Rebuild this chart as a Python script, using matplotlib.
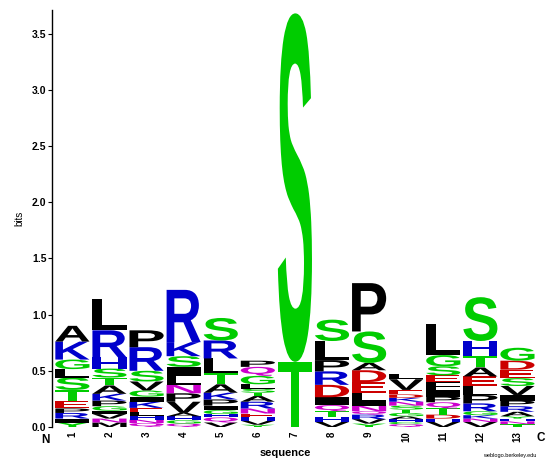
import matplotlib
matplotlib.use('Agg')
import matplotlib.pyplot as plt
from matplotlib.textpath import TextPath
from matplotlib.font_manager import FontProperties
from matplotlib.patches import PathPatch
from matplotlib.path import Path

# Sequence logo data: per position, letters from bottom to top with their heights (bits)
positions = list(range(1, 14))
stack_letters = [
    ['Y', 'I', 'R', 'P', 'E', 'T', 'S', 'L', 'G', 'K', 'A'],
    ['M', 'N', 'V', 'I', 'G', 'P', 'K', 'A', 'T', 'S', 'H', 'R', 'L'],
    ['Q', 'N', 'H', 'L', 'E', 'K', 'I', 'G', 'V', 'S', 'R', 'P'],
    ['Q', 'G', 'H', 'A', 'V', 'P', 'N', 'L', 'I', 'S', 'K', 'R'],
    ['V', 'Q', 'H', 'G', 'I', 'P', 'K', 'A', 'T', 'L', 'R', 'S'],
    ['Y', 'V', 'H', 'E', 'N', 'R', 'A', 'T', 'S', 'L', 'G', 'Q', 'P'],
    ['T', 'S'],
    ['V', 'H', 'T', 'Q', 'I', 'D', 'R', 'P', 'L', 'S'],
    ['Y', 'V', 'R', 'Q', 'N', 'I', 'L', 'E', 'D', 'A', 'S', 'P'],
    ['Q', 'C', 'H', 'A', 'G', 'T', 'S', 'N', 'K', 'D', 'E', 'V', 'L'],
    ['V', 'H', 'D', 'T', 'Q', 'P', 'I', 'F', 'E', 'S', 'G', 'L'],
    ['V', 'N', 'K', 'G', 'R', 'P', 'L', 'E', 'A', 'T', 'H', 'S'],
    ['T', 'N', 'H', 'Y', 'A', 'R', 'P', 'I', 'V', 'S', 'E', 'D', 'G'],
]
stack_heights = [
    [0.04, 0.035, 0.05, 0.04, 0.065, 0.10, 0.11, 0.075, 0.085, 0.16, 0.14],
    [0.04, 0.035, 0.04, 0.03, 0.04, 0.05, 0.06, 0.075, 0.07, 0.08, 0.10, 0.24, 0.28],
    [0.035, 0.03, 0.035, 0.03, 0.04, 0.055, 0.045, 0.055, 0.08, 0.095, 0.21, 0.15],
    [0.03, 0.03, 0.035, 0.03, 0.10, 0.075, 0.075, 0.075, 0.085, 0.095, 0.125, 0.465],
    [0.04, 0.045, 0.03, 0.035, 0.04, 0.055, 0.06, 0.075, 0.10, 0.13, 0.16, 0.20],
    [0.02, 0.035, 0.03, 0.035, 0.045, 0.06, 0.05, 0.03, 0.035, 0.04, 0.075, 0.08, 0.055],
    [0.58, 3.10],
    [0.045, 0.045, 0.05, 0.055, 0.07, 0.11, 0.12, 0.10, 0.17, 0.19],
    [0.03, 0.04, 0.04, 0.03, 0.05, 0.04, 0.075, 0.095, 0.105, 0.065, 0.28, 0.43],
    [0.025, 0.02, 0.025, 0.025, 0.03, 0.03, 0.035, 0.035, 0.035, 0.03, 0.04, 0.095, 0.05],
    [0.045, 0.03, 0.035, 0.055, 0.055, 0.05, 0.055, 0.075, 0.06, 0.08, 0.10, 0.28],
    [0.045, 0.03, 0.03, 0.035, 0.07, 0.075, 0.08, 0.085, 0.08, 0.105, 0.13, 0.39],
    [0.025, 0.025, 0.025, 0.02, 0.04, 0.05, 0.05, 0.05, 0.08, 0.07, 0.075, 0.08, 0.115],
]
yticks = [0.0, 0.5, 1.0, 1.5, 2.0, 2.5, 3.0, 3.5]

# weblogo "chemistry" colour scheme
colors = {}
for c in 'GSTYC':
    colors[c] = '#00CC00'
for c in 'QN':
    colors[c] = '#CC00CC'
for c in 'KRH':
    colors[c] = '#0000CC'
for c in 'DE':
    colors[c] = '#CC0000'
for c in 'AVLIPWFM':
    colors[c] = '#000000'

fp = FontProperties(family='Liberation Sans', weight='bold')
glyph_cache = {}


def draw_letter(ax, ch, xc, y0, w, h):
    if ch not in glyph_cache:
        glyph_cache[ch] = TextPath((0, 0), ch, size=1, prop=fp)
    p = glyph_cache[ch]
    ext = p.get_extents()
    verts = p.vertices.copy()
    verts[:, 0] = (verts[:, 0] - ext.x0) / ext.width * w + xc - w / 2
    verts[:, 1] = (verts[:, 1] - ext.y0) / ext.height * h + y0
    ax.add_patch(PathPatch(Path(verts, p.codes), facecolor=colors[ch],
                           edgecolor='none', lw=0))


fig = plt.figure(figsize=(5.52, 4.59), dpi=100)
ax = fig.add_axes([52 / 552, 32 / 459, 484 / 552, 417 / 459])

for pos, letters, heights in zip(positions, stack_letters, stack_heights):
    y = 0.0
    for ch, h in zip(letters, heights):
        draw_letter(ax, ch, pos, y, 0.92, h)
        y += h

ax.set_xlim(0.45, 13.5)
ax.set_ylim(0, 3.71)
ax.set_yticks(yticks)
ax.set_yticklabels(['%.1f' % t for t in yticks], fontsize=7.5, fontweight='bold',
                   family='Liberation Sans')
ax.set_xticks(positions)
ax.set_xticklabels([str(p) for p in positions], rotation=90, fontsize=7,
                   fontweight='bold', family='Liberation Sans')
ax.tick_params(axis='x', length=0, pad=3)
ax.tick_params(axis='y', length=3, width=0.8, pad=1)
for side in ['top', 'right', 'bottom']:
    ax.spines[side].set_visible(False)
ax.spines['left'].set_linewidth(1.0)

fig.text(45 / 552, 1 - 440 / 459, 'N', fontsize=8.5, fontweight='bold',
         family='Liberation Sans', ha='center', va='center')
fig.text(541 / 552, 1 - 438 / 459, 'C', fontsize=8.5, fontweight='bold',
         family='Liberation Sans', ha='center', va='center')
fig.text(285 / 552, 1 - 453 / 459, 'sequence', fontsize=8, fontweight='bold',
         family='Liberation Sans', ha='center', va='center')
fig.text(19 / 552, 1 - 218 / 459, 'bits', fontsize=7, rotation=90,
         family='Liberation Sans', ha='center', va='center')
fig.text(510 / 552, 1 - 455 / 459, 'weblogo.berkeley.edu', fontsize=4,
         family='Liberation Sans', ha='center', va='center')

plt.savefig('out.png', dpi=100)
